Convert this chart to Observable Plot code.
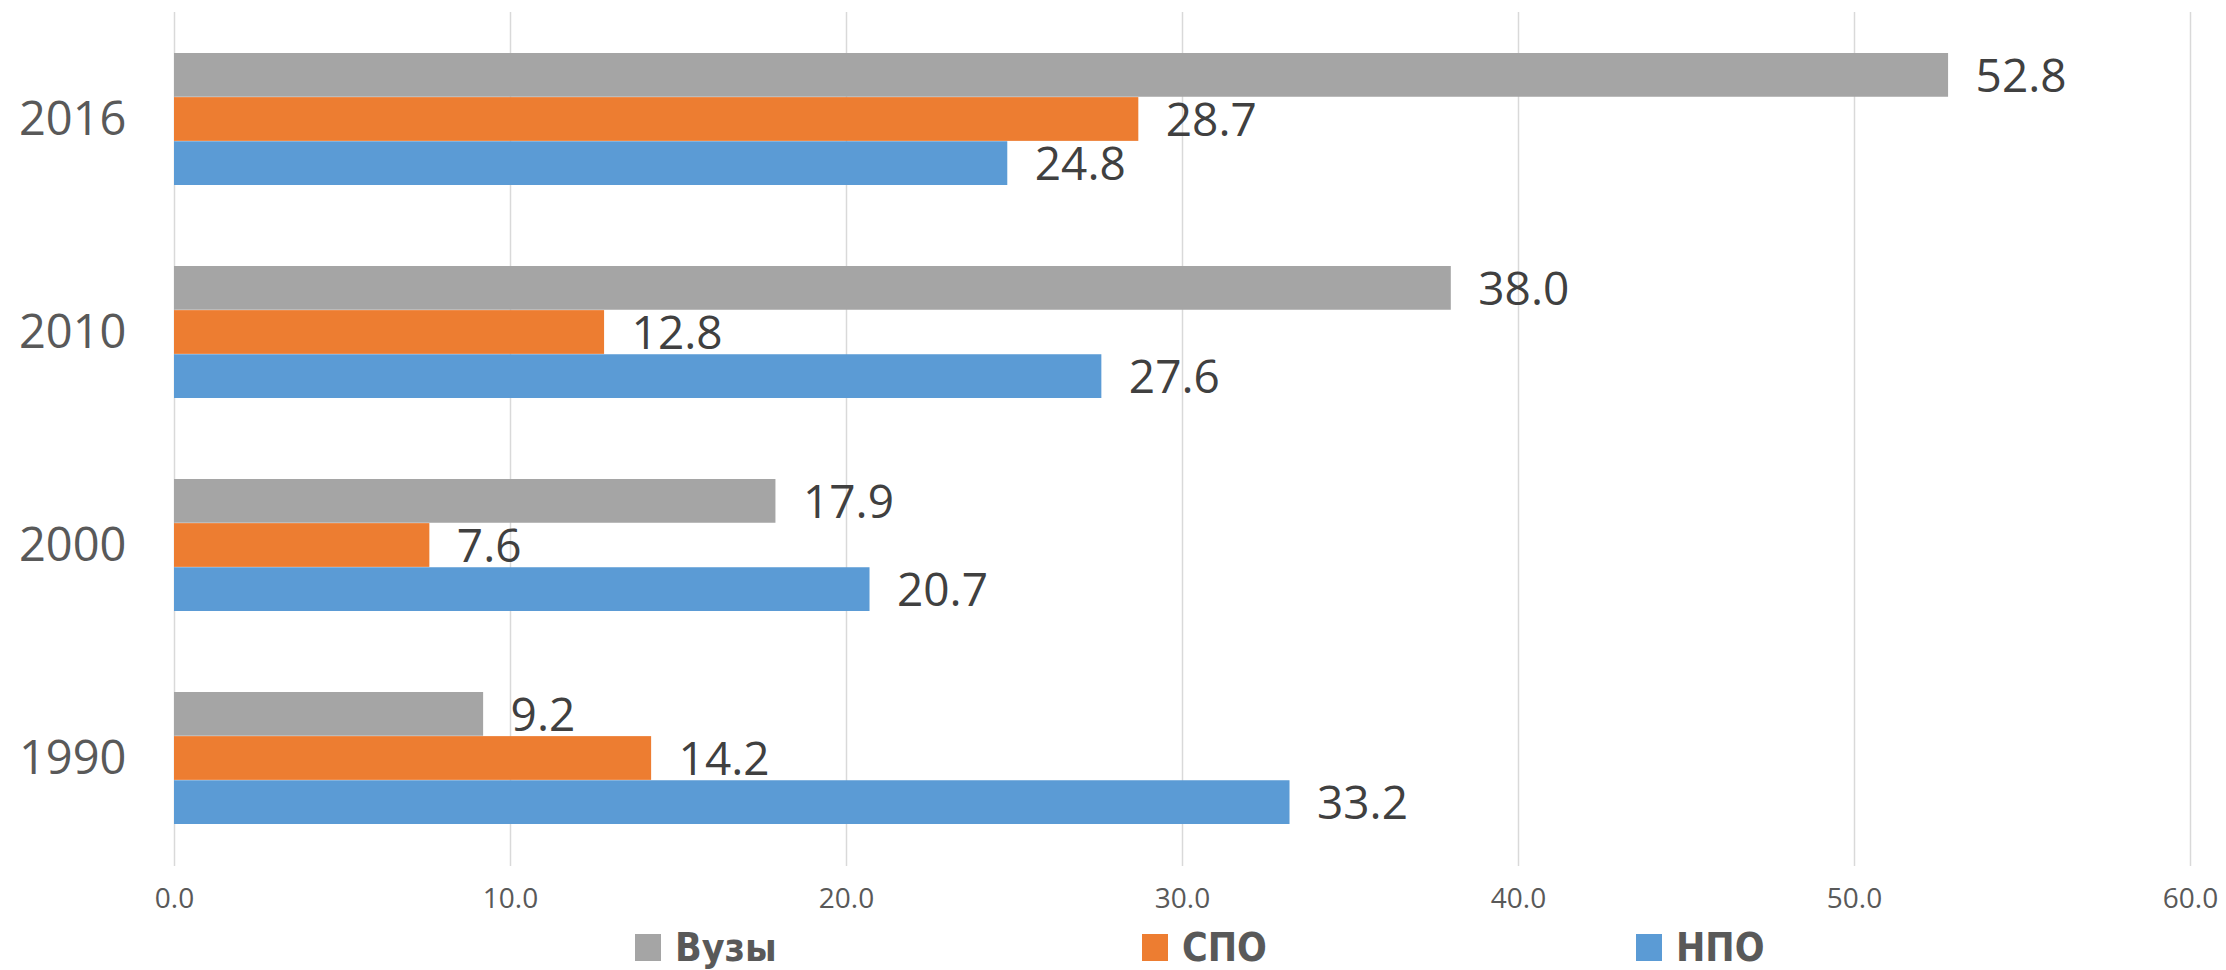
<!DOCTYPE html>
<html>
<head>
<meta charset="utf-8">
<script src="https://cdn.jsdelivr.net/npm/d3@7"></script>
<script src="https://cdn.jsdelivr.net/npm/@observablehq/plot@0.6"></script>
<style>
  html, body { margin: 0; padding: 0; background: #fff; }
  #chart svg { display: block; }
</style>
</head>
<body>
<div id="chart"></div>
<script>
// ---- data ----
const years = ["2016", "2010", "2000", "1990"];
const seriesNames = ["Вузы", "СПО", "НПО"];
const vuzy = [52.8, 38.0, 17.9, 9.2];
const spo = [28.7, 12.8, 7.6, 14.2];
const npo = [24.8, 27.6, 20.7, 33.2];
const xTicks = [0, 10, 20, 30, 40, 50, 60];
const colors = ["#a5a5a5", "#ed7d31", "#5b9bd5"];

// ---- layout ----
const W = 2226, H = 925;
const mTop = 12, mBottom = 59, mLeft = 174, mRight = 36;
const padInner = 0.38, padOuter = 0.19;

const seriesValues = [vuzy, spo, npo];
const tables = seriesValues.map((vals, i) =>
  years.map((y, j) => ({year: y, value: vals[j], series: seriesNames[i]}))
);

const yScale = Plot.scale({y: {type: "band", domain: years, range: [mTop, H - mBottom], paddingInner: padInner, paddingOuter: padOuter}});
const sub = yScale.bandwidth / 3;

const marks = [
  Plot.ruleX(xTicks, {x: d => d, stroke: "#d9d9d9", strokeWidth: 1.5})
];
tables.forEach((t, i) => {
  marks.push(Plot.barX(t, {
    x: "value", y: "year", fill: colors[i],
    insetTop: i * sub, insetBottom: (2 - i) * sub
  }));
});
tables.forEach((t, i) => {
  marks.push(Plot.text(t, {
    x: "value", y: "year", text: d => d.value.toFixed(1),
    textAnchor: "start", dx: 27, dy: (i - 1) * sub + 2,
    fontSize: 46, fill: "#404040"
  }));
});
marks.push(Plot.text(years, {
  y: d => d, frameAnchor: "left", textAnchor: "end", dx: -48,
  fontSize: 47, fill: "#595959"
}));
marks.push(Plot.text(xTicks, {
  x: d => d, frameAnchor: "bottom", dy: 41, text: d => d3.format(".1f")(d),
  fontSize: 28, fill: "#595959"
}));

const chart = Plot.plot({
  width: W, height: H,
  marginTop: mTop, marginBottom: mBottom, marginLeft: mLeft, marginRight: mRight,
  x: {domain: [0, 60], axis: null},
  y: {domain: years, paddingInner: padInner, paddingOuter: padOuter, axis: null},
  style: {fontFamily: "'Open Sans', sans-serif", background: "#fff"},
  marks
});
document.getElementById("chart").appendChild(chart);

// ---- legend (below the plot) ----
const legendX = [635, 1142, 1636];
const lg = d3.select("#chart").append("svg")
  .attr("width", W).attr("height", 45)
  .style("display", "block");
seriesNames.forEach((name, i) => {
  const g = lg.append("g").attr("transform", `translate(${legendX[i]},0)`);
  g.append("rect").attr("x", 0).attr("y", 9).attr("width", 26).attr("height", 27).attr("fill", colors[i]);
  g.append("text").attr("x", 40).attr("y", 36)
    .attr("font-family", "'DejaVu Sans Condensed', 'DejaVu Sans', sans-serif")
    .attr("font-stretch", "condensed")
    .attr("font-weight", "bold").attr("font-size", 39)
    .attr("fill", "#595959").text(name);
});
</script>
</body>
</html>
